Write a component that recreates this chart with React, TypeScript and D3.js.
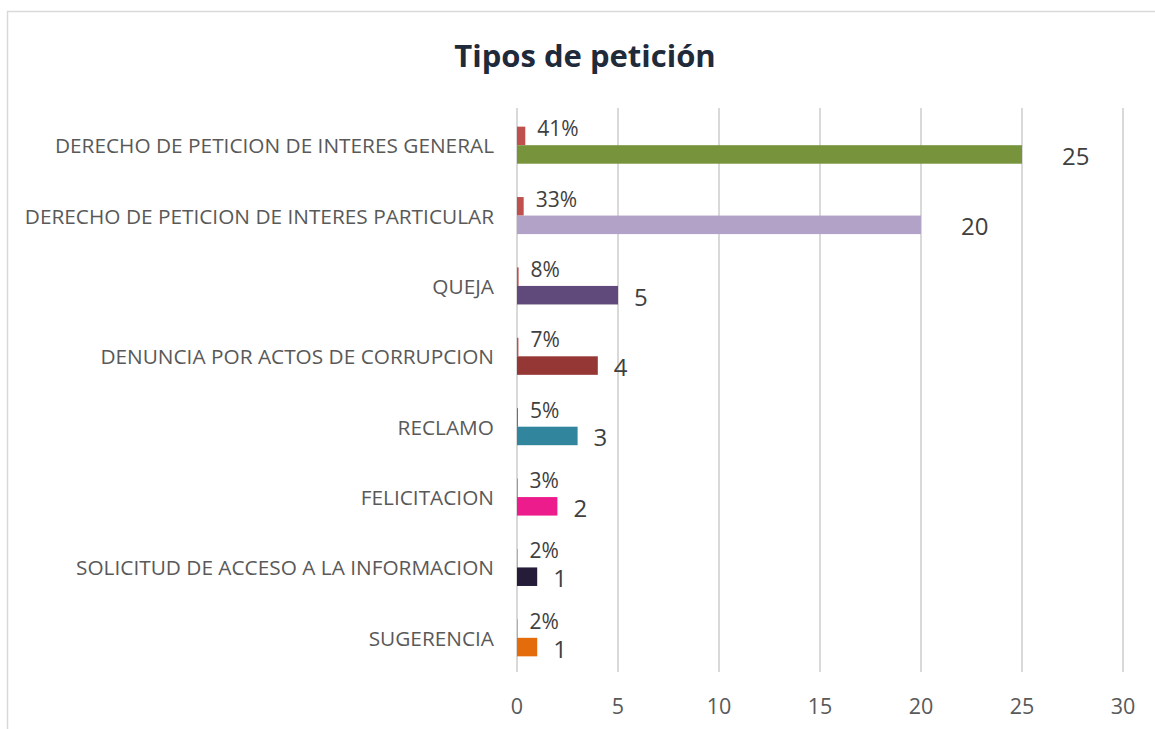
import React from "react";
import * as d3 from "d3";

const categories = [
  "DERECHO DE PETICION DE INTERES GENERAL",
  "DERECHO DE PETICION DE INTERES PARTICULAR",
  "QUEJA",
  "DENUNCIA POR ACTOS DE CORRUPCION",
  "RECLAMO",
  "FELICITACION",
  "SOLICITUD DE ACCESO A LA INFORMACION",
  "SUGERENCIA",
];
const counts = [25, 20, 5, 4, 3, 2, 1, 1];
const percents = [0.41, 0.33, 0.08, 0.07, 0.05, 0.03, 0.02, 0.02];
const barColors = ["#77933C", "#B3A2C7", "#604A7B", "#953735", "#31859C", "#EC1C8C", "#241C38", "#E46C0A"];
const pctColor = "#C0504D";
const xTicks = [0, 5, 10, 15, 20, 25, 30];
const title = "Tipos de petición";

const W = 1155;
const H = 729;
const FONT = "'Open Sans', 'Noto Sans', sans-serif";

export default function App() {
  const x = d3.scaleLinear().domain([0, 30]).range([517, 1123]);
  const y = d3.scaleBand<string>().domain(categories).range([110, 673]).padding(0);
  const sub = d3
    .scaleBand<string>()
    .domain(["pct", "count"])
    .range([0, y.bandwidth()])
    .paddingInner(0)
    .paddingOuter(0.9);
  const gridTop = 108;
  const gridBottom = 672;

  return (
    <svg
      width={W}
      height={H}
      style={{ position: "absolute", left: 0, top: 0, background: "#fff" }}
      fontFamily={FONT}
    >
      <rect x={0} y={0} width={W} height={H} fill="#fff" />
      <rect x={7.5} y={11.5} width={W + 50} height={H + 50} fill="none" stroke="#d9d9d9" strokeWidth={1.5} />
      <text
        x={585}
        y={55}
        textAnchor="middle"
        dominantBaseline="central"
        fontSize={31}
        fontWeight={700}
        fill="#1F2A3A"
      >
        {title}
      </text>

      {xTicks.map((t) => (
        <g key={t}>
          <line x1={x(t)} x2={x(t)} y1={gridTop} y2={gridBottom} stroke="#d9d9d9" strokeWidth={2} />
          <text
            x={x(t)}
            y={705}
            textAnchor="middle"
            dominantBaseline="central"
            fontSize={21.5}
            fill="#595959"
          >
            {t}
          </text>
        </g>
      ))}

      {categories.map((c, i) => {
        const y0 = y(c) as number;
        const yc = y0 + y.bandwidth() / 2;
        const yp = y0 + (sub("pct") as number);
        const yv = y0 + (sub("count") as number);
        const bh = sub.bandwidth();
        const v = counts[i];
        const p = percents[i];
        return (
          <g key={c}>
            <text
              x={494}
              y={yc}
              textAnchor="end"
              dominantBaseline="central"
              fontSize={20.8}
              fill="#595959"
            >
              {c}
            </text>
            <rect x={x(0)} y={yp} width={x(p) - x(0)} height={bh} fill={pctColor} />
            <rect x={x(0)} y={yv} width={x(v) - x(0)} height={bh} fill={barColors[i]} />
            <text
              x={x(p) + 12}
              y={yc - 17}
              dominantBaseline="central"
              fontSize={21}
              fill="#404040"
            >
              {Math.round(p * 100) + "%"}
            </text>
            <text
              x={x(v) + (v >= 10 ? 40 : 16)}
              y={yv + bh / 2 + 1}
              dominantBaseline="central"
              fontSize={24}
              fill="#404040"
            >
              {v}
            </text>
          </g>
        );
      })}
    </svg>
  );
}
